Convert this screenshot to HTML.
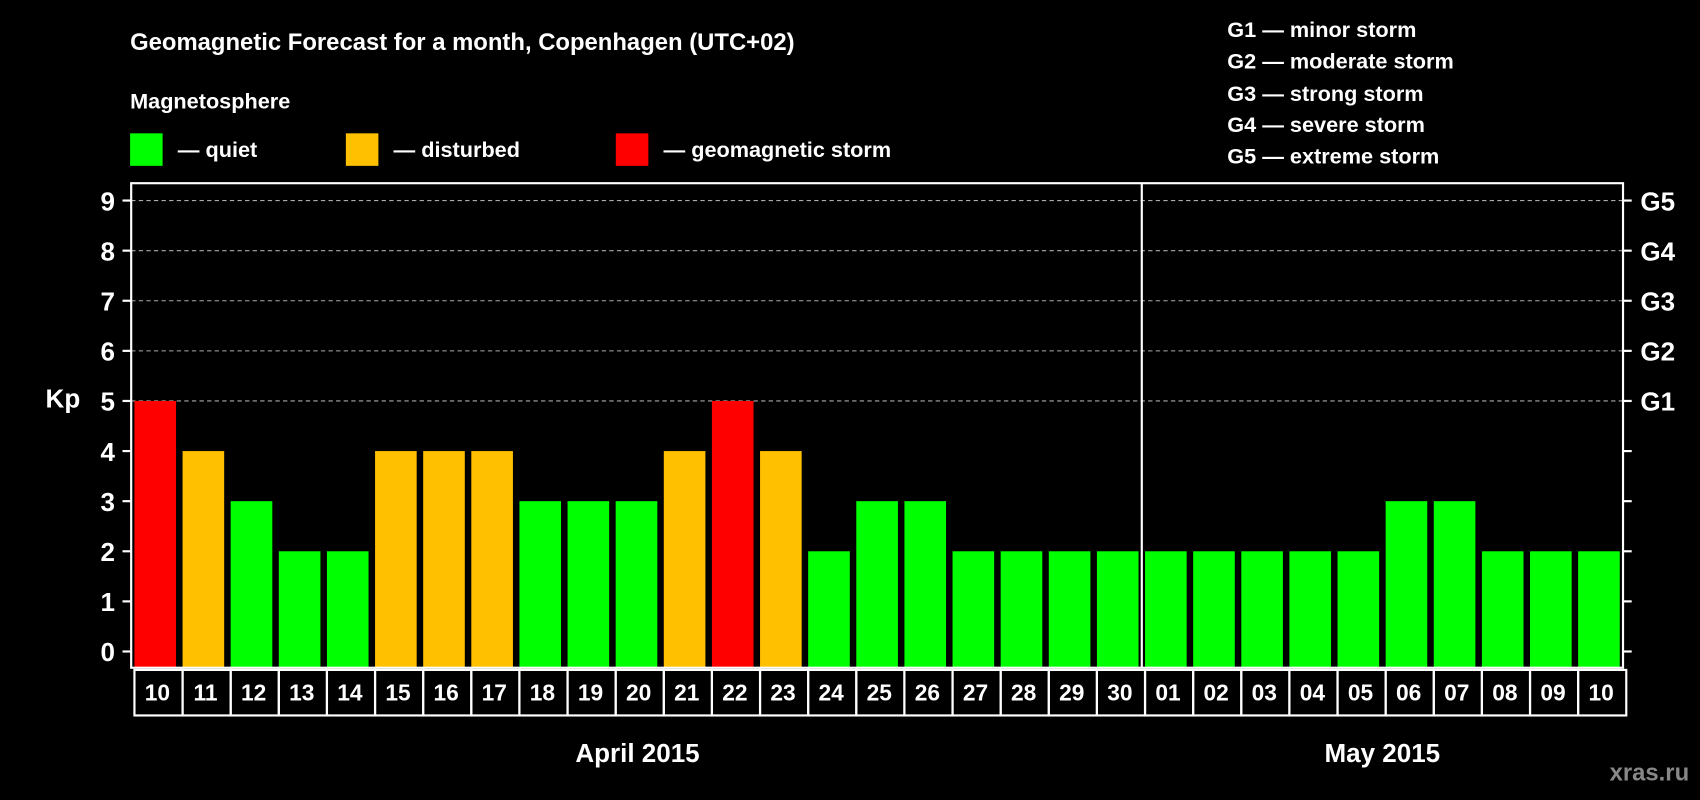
<!DOCTYPE html>
<html><head><meta charset="utf-8"><style>
html,body{margin:0;padding:0;background:#000;}
svg{display:block;font-family:"Liberation Sans",Arial,sans-serif;font-weight:bold;}
</style></head><body>
<svg id="chart" width="1700" height="800" viewBox="0 0 1568 738" preserveAspectRatio="none" xmlns="http://www.w3.org/2000/svg">
<rect width="1568" height="738" fill="#000"/>
<text x="120" y="46" fill="#fff" font-size="22">Geomagnetic Forecast for a month, Copenhagen (UTC+02)</text>
<text x="120" y="100" fill="#fff" font-size="20">Magnetosphere</text>
<g>
<rect x="120" y="123" width="30" height="30" fill="#00ff00"/>
<text x="164" y="145" fill="#fff" font-size="20">— quiet</text>
<rect x="319" y="123" width="30" height="30" fill="#ffc000"/>
<text x="363" y="145" fill="#fff" font-size="20">— disturbed</text>
<rect x="568" y="123" width="30" height="30" fill="#ff0000"/>
<text x="612" y="145" fill="#fff" font-size="20">— geomagnetic storm</text>
</g>
<g fill="#fff" font-size="20">
<text x="1132" y="34">G1 — minor storm</text>
<text x="1132" y="63">G2 — moderate storm</text>
<text x="1132" y="93">G3 — strong storm</text>
<text x="1132" y="122">G4 — severe storm</text>
<text x="1132" y="151">G5 — extreme storm</text>
</g>
<text x="58" y="376" fill="#fff" font-size="24" text-anchor="middle">Kp</text>
<g id="grid"></g>
<g id="bars"></g>
<g id="axes"></g>
<text x="588" y="703" fill="#fff" font-size="24" text-anchor="middle">April 2015</text>
<text x="1275" y="703" fill="#fff" font-size="24" text-anchor="middle">May 2015</text>
<text x="1558" y="720" fill="#888" font-size="22" text-anchor="end">xras.ru</text>
</svg>
<script>
const days = ["10","11","12","13","14","15","16","17","18","19","20","21","22","23","24","25","26","27","28","29","30","01","02","03","04","05","06","07","08","09","10"];
const kpValues = [5,4,3,2,2,4,4,4,3,3,3,4,5,4,2,3,3,2,2,2,2,2,2,2,2,2,3,3,2,2,2];
const yTicks = [0,1,2,3,4,5,6,7,8,9];
const gLabels = ["G1","G2","G3","G4","G5"];
const gLevels = [5,6,7,8,9];
const monthSplitIndex = 21;

const NS="http://www.w3.org/2000/svg";
const L=121,R=1497,T=169,B=616,Y0=601,Y9=185;
const step=(R-L)/days.length;
const y=v=>Y0-(Y0-Y9)*v/9;
const xs=i=>L+i*step;
function mk(tag,attrs,parent){const e=document.createElementNS(NS,tag);for(const k in attrs)e.setAttribute(k,attrs[k]);parent.appendChild(e);return e;}
const grid=document.getElementById('grid'),bars=document.getElementById('bars'),axes=document.getElementById('axes');
gLevels.forEach((v,i)=>{
  const ln=mk('line',{x1:L,x2:R,y1:y(v),y2:y(v),stroke:'#aaa','stroke-width':1,'stroke-dasharray':'4,3'},grid);
  
  
  const t=mk('text',{x:1513,y:y(v)+9,fill:'#fff','font-size':24},axes);t.textContent=gLabels[i];
  
  
});
kpValues.forEach((v,i)=>{
  const c=v>=5?'#ff0000':(v>=4?'#ffc000':'#00ff00');
  const r=mk('rect',{x:xs(i)+3,y:y(v),width:step-6,height:Y0-y(v)+15,fill:c},bars);
  
  
});
const frame=mk('rect',{x:L,y:T,width:R-L,height:B-T,fill:'none',stroke:'#fff','stroke-width':2},axes);


const div=mk('line',{x1:xs(monthSplitIndex),x2:xs(monthSplitIndex),y1:T,y2:B,stroke:'#fff','stroke-width':2},axes);


yTicks.forEach(v=>{
  mk('line',{x1:113,x2:L,y1:y(v),y2:y(v),stroke:'#fff','stroke-width':2},axes);
  mk('line',{x1:R,x2:1505,y1:y(v),y2:y(v),stroke:'#fff','stroke-width':2},axes);
  const t=mk('text',{x:106,y:y(v)+9,fill:'#fff','font-size':24,'text-anchor':'end'},axes);t.textContent=v;
  
  
});
days.forEach((d,i)=>{
  const cell=mk('rect',{x:xs(i)+3,y:618,width:step,height:42,fill:'none',stroke:'#fff','stroke-width':2},axes);
  
  
  const t=mk('text',{x:xs(i)+step/2+2,y:646,fill:'#fff','font-size':21,'text-anchor':'middle'},axes);t.textContent=d;
  
  
});
</script>
</body></html>
